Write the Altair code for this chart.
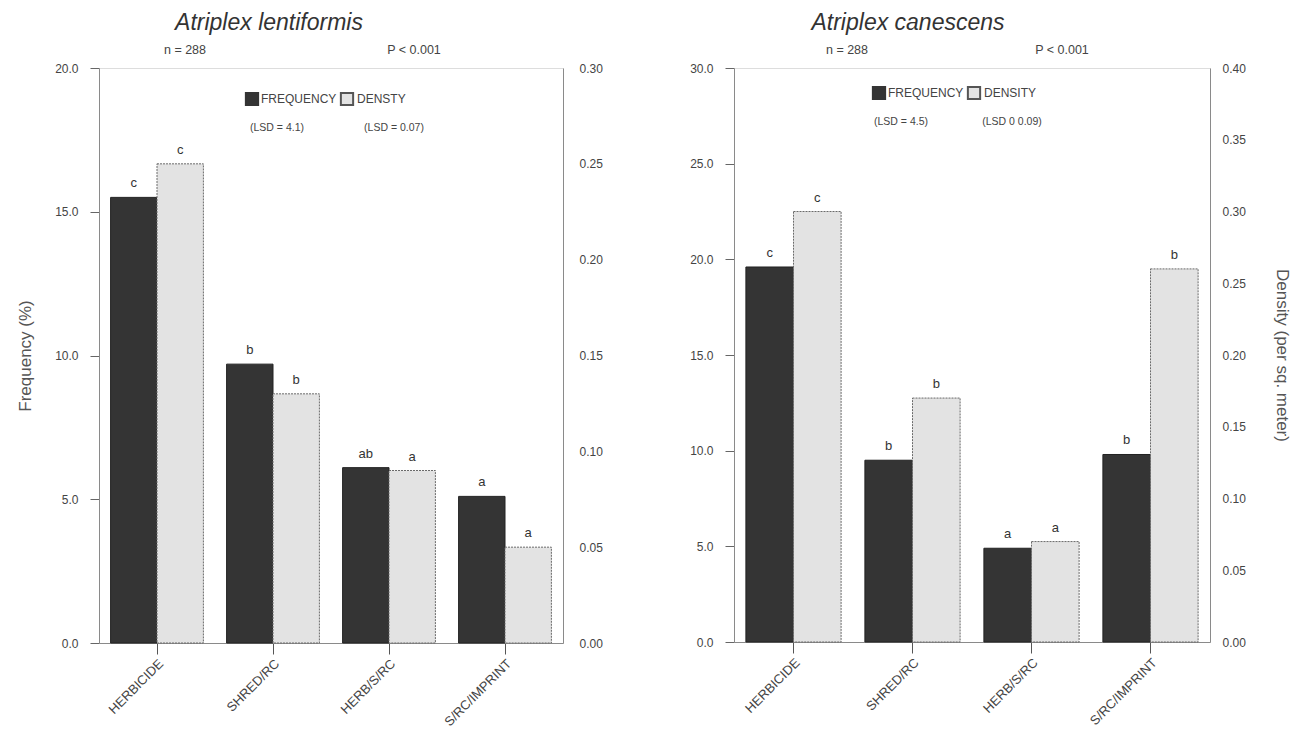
import altair as alt
import pandas as pd

# ---------------- data ----------------
categories = ["HERBICIDE", "SHRED/RC", "HERB/S/RC", "S/RC/IMPRINT"]

lent_freq = [15.5, 9.7, 6.1, 5.1]
lent_dens = [0.25, 0.13, 0.09, 0.05]
lent_freq_sig = ["c", "b", "ab", "a"]
lent_dens_sig = ["c", "b", "a", "a"]

can_freq = [19.6, 9.5, 4.9, 9.8]
can_dens = [0.30, 0.17, 0.07, 0.26]
can_freq_sig = ["c", "b", "a", "b"]
can_dens_sig = ["c", "b", "a", "b"]

lent_freq_ticks = [0, 5, 10, 15, 20]
lent_dens_ticks = [0, 0.05, 0.10, 0.15, 0.20, 0.25, 0.30]
can_freq_ticks = [0, 5, 10, 15, 20, 25, 30]
can_dens_ticks = [0, 0.05, 0.10, 0.15, 0.20, 0.25, 0.30, 0.35, 0.40]

lent_legend = ["FREQUENCY", "DENSTY"]
can_legend = ["FREQUENCY", "DENSITY"]
lent_lsd = ["(LSD = 4.1)", "(LSD = 0.07)"]
can_lsd = ["(LSD = 4.5)", "(LSD 0 0.09)"]
stats_text = ["n = 288", "P < 0.001"]

FONT = "Liberation Sans"
DARK = "#343434"
LIGHT = "#e3e3e3"
FRAME = "#8a8a8a"
TXT = "#444444"


def panel(title, freq, dens, fsig, dsig, fticks, dticks, width, height,
          legend, lsd, ftitle, dtitle, lay):
    df = pd.DataFrame({"cat": categories, "freq": freq, "dens": dens,
                       "fsig": fsig, "dsig": dsig})
    base = alt.Chart(df)
    band = width / 4.0
    bw = band * 0.4

    x = alt.X("cat:N", sort=categories,
              scale=alt.Scale(paddingInner=0, paddingOuter=0),
              axis=alt.Axis(title=None, labelAngle=-45, labelFontSize=13,
                            labelFont=FONT, labelColor=TXT, tickSize=11,
                            tickColor="#555555", domainColor=FRAME,
                            labelPadding=3))

    axF = alt.Axis(orient="left", values=fticks, format=".1f", grid=False,
                   tickSize=9, tickColor="#666666", labelPadding=12,
                   labelFontSize=12, labelFont=FONT, labelColor=TXT,
                   domainColor=FRAME, title=ftitle, titleFontSize=17,
                   titleFont=FONT, titleFontWeight="normal",
                   titleColor="#555555", titlePadding=20)
    axD = alt.Axis(orient="right", values=dticks, format=".2f", grid=False,
                   ticks=False, labelPadding=lay["rpad"], labelFontSize=12,
                   labelFont=FONT, labelColor=TXT, domainColor=FRAME,
                   title=dtitle, titleFontSize=17, titleFont=FONT,
                   titleFontWeight="normal", titleColor="#555555",
                   titlePadding=27)

    yF = alt.Y("freq:Q", scale=alt.Scale(domain=[fticks[0], fticks[-1]], nice=False), axis=axF)
    yD = alt.Y("dens:Q", scale=alt.Scale(domain=[dticks[0], dticks[-1]], nice=False), axis=axD)

    fbar = base.mark_bar(width=bw, xOffset=-bw / 2, fill=DARK, stroke="#222222",
                         strokeWidth=1).encode(x=x, y=yF)
    ftxt = base.mark_text(xOffset=-bw / 2, dy=-7, baseline="bottom", fontSize=13,
                          font=FONT, color="#333333").encode(x=x, y=yF, text="fsig:N")
    dbar = base.mark_bar(width=bw, xOffset=bw / 2, fill=LIGHT, stroke="#6a6a6a",
                         strokeWidth=1, strokeDash=[2, 1]).encode(x=x, y=yD)
    dtxt = base.mark_text(xOffset=bw / 2, dy=-7, baseline="bottom", fontSize=13,
                          font=FONT, color="#333333").encode(x=x, y=yD, text="dsig:N")

    one = alt.Chart(pd.DataFrame({"k": [0]}))
    sq1 = one.mark_square(size=150, fill=DARK, stroke=DARK, opacity=1).encode(
        x=alt.value(lay["sq1"]), y=alt.value(lay["ly"]))
    sq2 = one.mark_square(size=150, fill=LIGHT, stroke="#555555", opacity=1).encode(
        x=alt.value(lay["sq2"]), y=alt.value(lay["ly"]))
    lt1 = one.mark_text(align="left", baseline="middle", fontSize=12, font=FONT,
                        color=TXT).encode(x=alt.value(lay["t1"]), y=alt.value(lay["ly"]),
                                          text=alt.value(legend[0]))
    lt2 = one.mark_text(align="left", baseline="middle", fontSize=12, font=FONT,
                        color=TXT).encode(x=alt.value(lay["t2"]), y=alt.value(lay["ly"]),
                                          text=alt.value(legend[1]))
    ls1 = one.mark_text(align="center", baseline="middle", fontSize=10.5, font=FONT,
                        color=TXT).encode(x=alt.value(lay["l1"]), y=alt.value(lay["lsy"]),
                                          text=alt.value(lsd[0]))
    ls2 = one.mark_text(align="center", baseline="middle", fontSize=10.5, font=FONT,
                        color=TXT).encode(x=alt.value(lay["l2"]), y=alt.value(lay["lsy"]),
                                          text=alt.value(lsd[1]))
    st1 = one.mark_text(align="center", baseline="middle", fontSize=12.5, font=FONT,
                        color=TXT).encode(x=alt.value(lay["n"]), y=alt.value(-18),
                                          text=alt.value(stats_text[0]))
    st2 = one.mark_text(align="center", baseline="middle", fontSize=12.5, font=FONT,
                        color=TXT).encode(x=alt.value(lay["p"]), y=alt.value(-18),
                                          text=alt.value(stats_text[1]))

    flayer = alt.layer(fbar, ftxt, sq1, sq2, lt1, lt2, ls1, ls2, st1, st2)
    dlayer = alt.layer(dbar, dtxt)
    return alt.layer(flayer, dlayer).resolve_scale(y="independent").properties(
        width=width, height=height,
        title=alt.TitleParams(text=title, fontSize=23, fontStyle="italic",
                              fontWeight="normal", font=FONT, color="#333333",
                              anchor="middle", offset=9, frame="group",
                              dx=lay["tdx"]))


left = panel("Atriplex lentiformis", lent_freq, lent_dens, lent_freq_sig, lent_dens_sig,
             lent_freq_ticks, lent_dens_ticks, 464, 575, lent_legend, lent_lsd,
             "Frequency (%)", None,
             {"sq1": 153, "sq2": 248, "t1": 162, "t2": 258, "ly": 31,
              "l1": 178, "l2": 295, "lsy": 60, "n": 86, "p": 315,
              "tdx": -62, "rpad": 16})
right = panel("Atriplex canescens", can_freq, can_dens, can_freq_sig, can_dens_sig,
              can_freq_ticks, can_dens_ticks, 476, 574, can_legend, can_lsd,
              None, "Density (per sq. meter)",
              {"sq1": 145, "sq2": 240, "t1": 154, "t2": 250, "ly": 25,
               "l1": 167, "l2": 278, "lsy": 54, "n": 113, "p": 328,
               "tdx": -64, "rpad": 12})

chart = alt.hconcat(left, right, spacing=86).properties(
    padding={"left": 8, "top": 3, "right": 0, "bottom": 2}
).configure_view(stroke=FRAME, strokeWidth=1).configure(background="white")

chart.save("out.html", embed_options={"renderer": "svg", "actions": False})
